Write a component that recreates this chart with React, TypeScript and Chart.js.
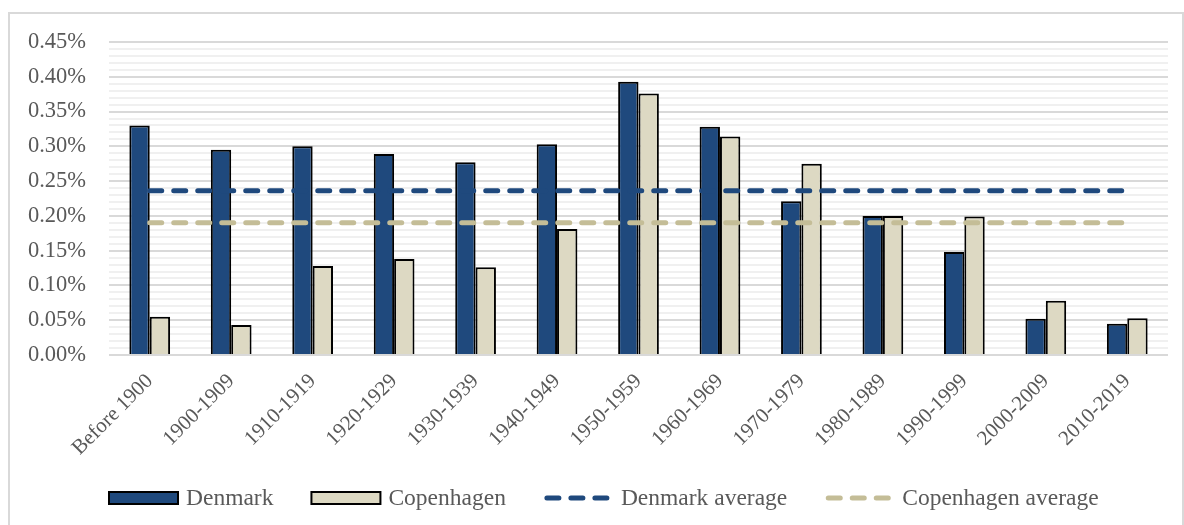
import React, { useEffect, useRef } from "react";
import { Chart, registerables } from "chart.js";

Chart.register(...registerables);

const categories = [
  "Before 1900",
  "1900-1909",
  "1910-1919",
  "1920-1929",
  "1930-1939",
  "1940-1949",
  "1950-1959",
  "1960-1969",
  "1970-1979",
  "1980-1989",
  "1990-1999",
  "2000-2009",
  "2010-2019",
];

// values in percent
const denmark = [0.33, 0.295, 0.3, 0.289, 0.277, 0.303, 0.393, 0.328, 0.221, 0.2, 0.148, 0.052, 0.045];
const copenhagen = [0.055, 0.043, 0.128, 0.138, 0.126, 0.181, 0.376, 0.314, 0.275, 0.2, 0.199, 0.078, 0.053];
const denmarkAverage = 0.236;
const copenhagenAverage = 0.19;

const yMin = 0;
const yMax = 0.45;
const yMajorStep = 0.05;
const yMinorStep = 0.01;

const seriesNames = ["Denmark", "Copenhagen", "Denmark average", "Copenhagen average"];

const DK_BLUE = "#1F497D";
const CPH_BEIGE = "#DDD9C3";
const CPH_AVG = "#C4BD97";
const TEXT = "#595959";
const FONT = "'Liberation Serif', 'Times New Roman', serif";

const isMajor = (v: number) => Math.round(v * 100) % Math.round(yMajorStep * 100) === 0;

const legendPlugin = {
  id: "customLegend",
  afterDraw(chart: any) {
    const ctx = chart.ctx as CanvasRenderingContext2D;
    const area = chart.chartArea;
    const symW = 69;
    const symH = 12;
    const gap = 8;
    const itemGap = 38;
    const cy = 498;
    ctx.save();
    ctx.font = `23.5px ${FONT}`;
    ctx.textBaseline = "middle";
    ctx.textAlign = "left";
    let x = area.left;
    chart.data.datasets.forEach((ds: any) => {
      if (ds.type === "line") {
        ctx.save();
        ctx.strokeStyle = ds.borderColor;
        ctx.lineWidth = 5;
        ctx.lineCap = "round";
        ctx.setLineDash([12, 12]);
        ctx.beginPath();
        ctx.moveTo(x + 3, cy);
        ctx.lineTo(x + symW - 3, cy);
        ctx.stroke();
        ctx.restore();
      } else {
        ctx.fillStyle = ds.backgroundColor;
        ctx.fillRect(x, cy - symH / 2, symW, symH);
        ctx.strokeStyle = "#000";
        ctx.lineWidth = 2;
        ctx.strokeRect(x, cy - symH / 2, symW, symH);
      }
      ctx.fillStyle = TEXT;
      const tx = x + symW + gap;
      ctx.fillText(ds.label, tx, cy + 1);
      x = tx + ctx.measureText(ds.label).width + itemGap;
    });
    ctx.restore();
  },
};

export default function App() {
  const ref = useRef<HTMLCanvasElement | null>(null);

  useEffect(() => {
    if (!ref.current) return;
    const chart = new Chart(ref.current, {
      type: "bar",
      data: {
        labels: categories,
        datasets: [
          {
            type: "bar",
            label: seriesNames[0],
            data: denmark,
            backgroundColor: DK_BLUE,
            borderColor: "#000",
            borderWidth: 2,
            order: 2,
            barPercentage: 1,
            categoryPercentage: 0.5,
          },
          {
            type: "bar",
            label: seriesNames[1],
            data: copenhagen,
            backgroundColor: CPH_BEIGE,
            borderColor: "#000",
            borderWidth: 2,
            order: 2,
            barPercentage: 1,
            categoryPercentage: 0.5,
          },
          {
            type: "line",
            label: seriesNames[2],
            data: categories.map(() => denmarkAverage),
            borderColor: DK_BLUE,
            backgroundColor: DK_BLUE,
            borderWidth: 5,
            borderDash: [12, 12],
            borderCapStyle: "round",
            pointRadius: 0,
            fill: false,
            order: 1,
          },
          {
            type: "line",
            label: seriesNames[3],
            data: categories.map(() => copenhagenAverage),
            borderColor: CPH_AVG,
            backgroundColor: CPH_AVG,
            borderWidth: 5,
            borderDash: [12, 12],
            borderCapStyle: "round",
            pointRadius: 0,
            fill: false,
            order: 1,
          },
        ] as any,
      },
      options: {
        animation: false,
        responsive: true,
        maintainAspectRatio: false,
        layout: { padding: { left: 0, right: 16, top: 42, bottom: 50 } },
        plugins: {
          legend: { display: false },
          tooltip: { enabled: false },
        },
        scales: {
          x: {
            grid: { display: false },
            border: { display: false },
            ticks: {
              autoSkip: false,
              maxRotation: 45,
              minRotation: 45,
              padding: 6,
              color: TEXT,
              font: { family: FONT, size: 21 },
            },
            afterFit: (s: any) => {
              s.height = 120;
            },
          },
          y: {
            min: yMin,
            max: yMax,
            border: { display: false },
            grid: {
              drawTicks: false,
              color: (c: any) => (isMajor(c.tick.value) ? "#d9d9d9" : "#f0f0f0"),
              lineWidth: 2,
            },
            ticks: {
              stepSize: yMinorStep,
              autoSkip: false,
              padding: 23,
              color: TEXT,
              font: { family: FONT, size: 22.5 },
              callback: (v: any) => (isMajor(Number(v)) ? `${Number(v).toFixed(2)}%` : ""),
            },
            afterFit: (s: any) => {
              s.width = 109;
            },
          },
        },
      },
      plugins: [legendPlugin],
    });
    return () => chart.destroy();
  }, []);

  return (
    <>
      <div
        style={{
          position: "fixed",
          left: 8,
          top: 12,
          width: 1176,
          height: 530,
          border: "2px solid #d9d9d9",
          boxSizing: "border-box",
          background: "#fff",
        }}
      />
      <div style={{ position: "fixed", left: 0, top: 0, width: 1184, height: 525 }}>
        <canvas ref={ref} />
      </div>
    </>
  );
}
